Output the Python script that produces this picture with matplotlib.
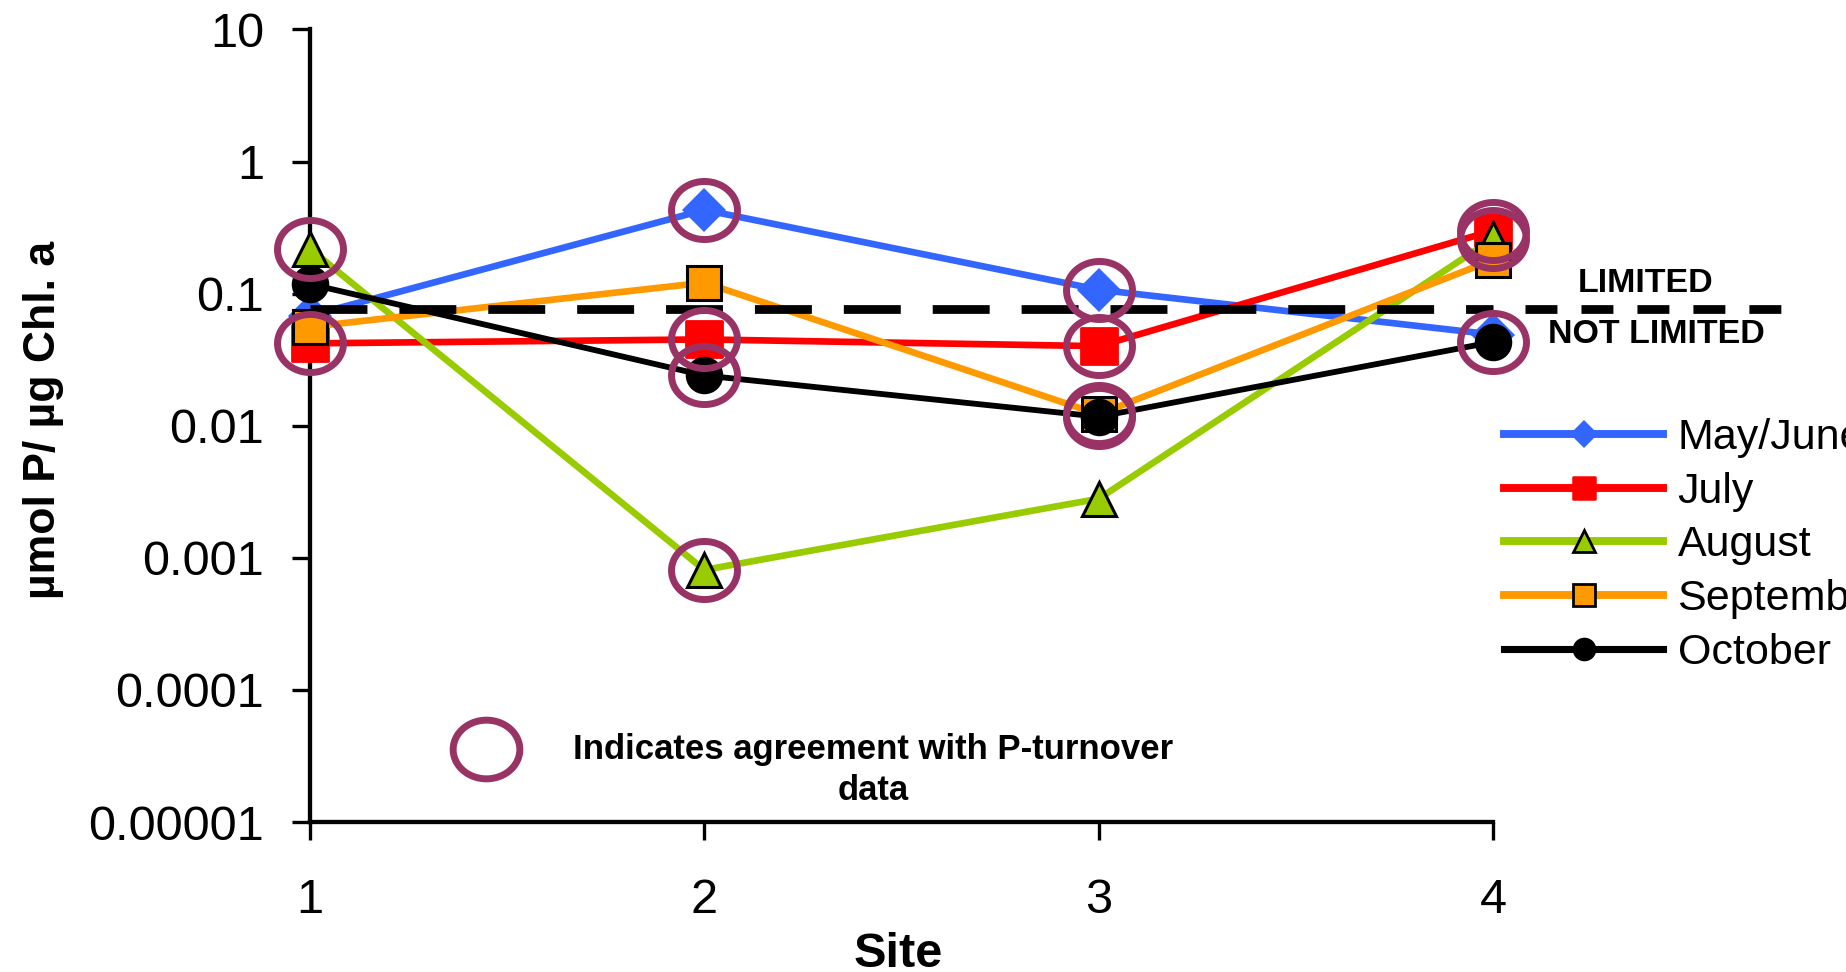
import numpy as np
import matplotlib
matplotlib.use("Agg")
import matplotlib.pyplot as plt
from matplotlib.path import Path
from matplotlib.markers import MarkerStyle
from matplotlib.lines import Line2D
from matplotlib.ticker import FixedLocator, FixedFormatter, NullLocator

plt.rcParams['font.family'] = ['Liberation Sans', 'DejaVu Sans']
plt.rcParams['lines.scale_dashes'] = False

# ---- data ------------------------------------------------------------
sites = [1, 2, 3, 4]
xtick_labels = ["1", "2", "3", "4"]
series_names = ["May/June", "July", "August", "September", "October"]

may_june = [0.068, 0.43, 0.107, 0.049]
july = [0.042, 0.045, 0.040, 0.30]
august = [0.218, 0.00081, 0.0028, 0.26]
september = [0.056, 0.121, 0.0122, 0.18]
october = [0.118, 0.024, 0.0117, 0.043]

# P-limitation threshold (µmol P / µg Chl. a)
limit_threshold = 0.077

ytick_values = [1e-5, 1e-4, 1e-3, 1e-2, 1e-1, 1, 10]
ytick_labels = ["0.00001", "0.0001", "0.001", "0.01", "0.1", "1", "10"]

# points that agree with the P-turnover data: (series index, site)
agreement = [(2, 1), (1, 1),
             (0, 2), (1, 2), (4, 2), (2, 2),
             (0, 3), (1, 3), (3, 3), (4, 3),
             (1, 4), (2, 4), (4, 4)]

# ---- styles ----------------------------------------------------------
series_values = [may_june, july, august, september, october]
colors = ["#3366FF", "#FF0000", "#99CC00", "#FF9900", "#000000"]
markers = ["D", MarkerStyle("s", joinstyle="round"), "^", "s", "o"]
msizes = [22, 26, 25, 25, 27]
legend_msizes = [14.5, 16, 16, 15.5, 17]
edgecolors = ["#3366FF", "#FF0000", "#000000", "#000000", "#000000"]
edgewidths = [0, 2, 2.2, 2.2, 0]
linewidths = [4.8, 4.8, 4.8, 4.8, 4.2]
ring_color = "#993366"

t = np.linspace(0, 2 * np.pi, 121)
ring = Path(np.column_stack([np.cos(t), 0.88 * np.sin(t)]), closed=True)

W, H = 1846, 972
fig = plt.figure(figsize=(W / 100, H / 100), dpi=100)
ax = fig.add_axes([310 / W, (H - 822) / H, (1493 - 310) / W, (822 - 29.4) / H])

for i, vals in enumerate(series_values):
    ax.plot(sites, vals, color=colors[i], lw=linewidths[i], marker=markers[i],
            ms=msizes[i], mfc=colors[i], mec=edgecolors[i], mew=edgewidths[i],
            clip_on=False, zorder=3 + i)

# threshold line across the plot and its extension next to the labels
ax.plot([sites[0], sites[-1]], [limit_threshold, limit_threshold], color="black",
        lw=6.3, dashes=(41, 23), dash_capstyle="butt", clip_on=False, zorder=9)
ax.plot([4.081, 4.731], [limit_threshold, limit_threshold], color="black",
        lw=6.3, dashes=(23, 17.3), dash_capstyle="butt", clip_on=False, zorder=9)

# rings marking agreement with P-turnover
for s_idx, site in agreement:
    ax.plot([site], [series_values[s_idx][site - 1]], ls="none", marker=ring,
            ms=47.5, mfc="none", mec=ring_color, mew=5, clip_on=False, zorder=12)

# axes
ax.set_yscale("log")
ax.set_ylim(1e-5, 10)
ax.set_xlim(1, 4)
ax.yaxis.set_major_locator(FixedLocator(ytick_values))
ax.yaxis.set_major_formatter(FixedFormatter(ytick_labels))
ax.yaxis.set_minor_locator(NullLocator())
ax.set_xticks(sites, xtick_labels)
for s in ["top", "right"]:
    ax.spines[s].set_visible(False)
for s in ["left", "bottom"]:
    ax.spines[s].set_linewidth(3.1)
ax.tick_params(axis="both", direction="out", length=13, width=2.4,
               labelsize=35, colors="black")
ax.tick_params(axis="y", pad=20)
ax.tick_params(axis="x", pad=27)

ax.set_ylabel("µmol P/ µg Chl. a", fontsize=32, fontweight="bold",
              va="center", ha="center")
ax.yaxis.set_label_coords(-0.2253, 0.5078)
ax.set_xlabel("Site", fontsize=35, fontweight="bold", va="top", ha="center")
ax.xaxis.set_label_coords(0.497, -0.1382)

# threshold labels
fig.text(1646 / W, 1 - 292 / H, "LIMITED", fontsize=24.5, fontweight="bold",
         ha="center", va="baseline")
fig.text(1656 / W, 1 - 343 / H, "NOT LIMITED", fontsize=24.5, fontweight="bold",
         ha="center", va="baseline")

# note on the agreement rings
fig.add_artist(Line2D([486 / W], [1 - 748.5 / H], transform=fig.transFigure,
                      ls="none", marker=ring, ms=48, mfc="none", mec=ring_color, mew=5))
fig.text(873.5 / W, 1 - 733 / H, "Indicates agreement with P-turnover\ndata",
         fontsize=25, fontweight="bold", ha="center", va="top",
         multialignment="center", linespacing=1.3)

# legend
handles = [Line2D([], [], color=colors[i], lw=linewidths[i] + 0.9, marker=markers[i],
                  ms=legend_msizes[i], mfc=colors[i], mec=edgecolors[i],
                  mew=edgewidths[i] * 0.9)
           for i in range(len(series_names))]
fig.legend(handles, series_names, loc="upper left",
           bbox_to_anchor=(1504 / W, 1 - 418 / H), frameon=False, fontsize=31,
           handlelength=3.7, handletextpad=0.33, labelspacing=0.317,
           borderpad=0, borderaxespad=0, numpoints=1)

fig.savefig("out.png", dpi=100)
